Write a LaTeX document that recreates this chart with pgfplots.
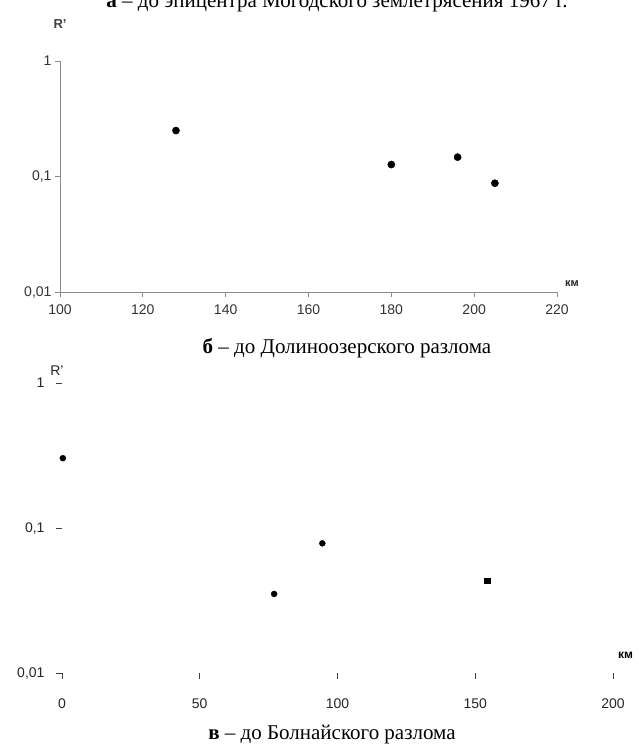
\documentclass[border=0pt]{standalone}
\usepackage{fontspec}
\setmainfont{Liberation Serif}
\setsansfont{Liberation Sans}
\usepackage{pgfplots}
\pgfplotsset{compat=1.18}
\begin{document}
\begin{tikzpicture}[x=1pt,y=1pt]
\begin{axis}[at={(60pt,-292pt)}, anchor=south west, scale only axis,
  width=497pt, height=231pt, xmin=100, xmax=220, ymode=log, ymin=0.01, ymax=1,
  axis x line=bottom, axis y line=left, axis line style={black!45, -, line width=0.9pt},
  xtick={100,120,...,220}, ytick={0.01,0.1,1}, yticklabels={{0,01},{0,1},{1}},
  minor ytick={}, yminorticks=false,
  tick style={black!45, line width=0.9pt}, tick align=outside, major tick length=5pt,
  tick label style={font=\sffamily\fontsize{14}{14}\selectfont, text=black!80},
  /pgf/number format/assume math mode=true, clip=false,
  xticklabel style={yshift=-4pt}]
\addplot[only marks, mark=*, mark size=3.6pt, black] coordinates {(128,0.25) (180,0.127) (196,0.147) (205,0.0875)};
\end{axis}
\begin{axis}[at={(62pt,-673pt)}, anchor=south west, scale only axis,
  width=551pt, height=290pt, xmin=0, xmax=200, ymode=log, ymin=0.01, ymax=1,
  axis x line=bottom, axis y line=left, axis line style={draw=none},
  xtick={0,50,...,200}, ytick={0.01,0.1,1}, yticklabels={{0,01},{0,1},{1}},
  minor ytick={}, yminorticks=false,
  tick style={black!75, line width=0.9pt}, tick align=outside, major tick length=6pt,
  tick label style={font=\sffamily\fontsize{14}{14}\selectfont, text=black!85},
  /pgf/number format/assume math mode=true, clip=false,
  xticklabel style={yshift=-16pt}, yticklabel style={xshift=-8pt}]
\addplot[only marks, mark=*, mark size=3pt, black] coordinates {(0.3,0.303) (77,0.0351) (94.5,0.0784)};
\addplot[only marks, mark=square*, mark size=2.8pt, black] coordinates {(154.4,0.0433)};
\end{axis}
\node[font=\bfseries\sffamily\fontsize{13}{13}\selectfont, text=black!75] at (60,-24) {R'};
\node[font=\bfseries\sffamily\fontsize{11}{11}\selectfont, text=black!85] at (572,-284) {км};
\node[font=\sffamily\fontsize{14}{14}\selectfont, text=black!85] at (57,-371) {R'};
\node[font=\bfseries\sffamily\fontsize{12}{12}\selectfont, anchor=west, inner sep=0pt] at (618,-655) {км};
\node[anchor=base, font=\fontsize{21}{21}\selectfont, inner sep=0pt] at (337,-7) {\textbf{а} – до эпицентра Могодского землетрясения 1967 г.};
\node[anchor=base, font=\fontsize{21}{21}\selectfont, inner sep=0pt] at (347,-353) {\textbf{б} – до Долиноозерского разлома};
\node[anchor=base, font=\fontsize{21}{21}\selectfont, inner sep=0pt] at (332,-739) {\textbf{в} – до Болнайского разлома};
\pgfresetboundingbox
\useasboundingbox (0,0) rectangle (639,-745);
\end{tikzpicture}
\end{document}
